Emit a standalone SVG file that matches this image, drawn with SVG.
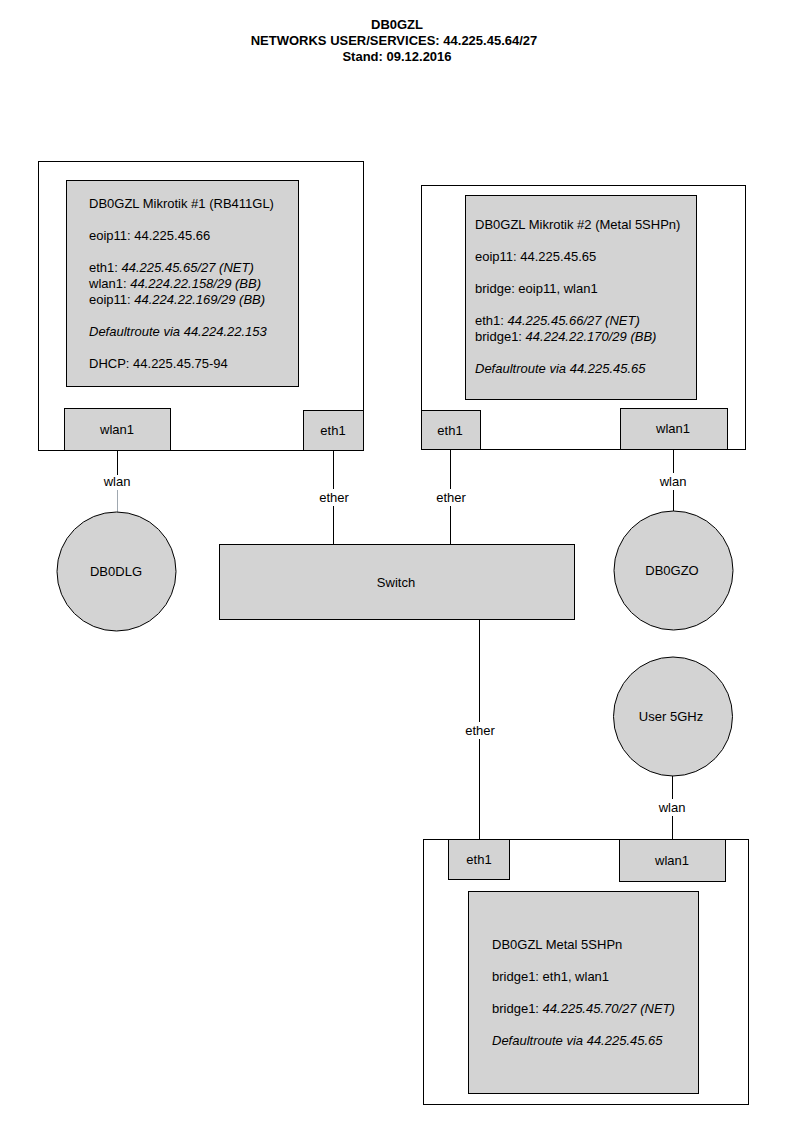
<svg xmlns="http://www.w3.org/2000/svg" width="794" height="1123" viewBox="0 0 794 1123">
<style>
text{font-family:"Liberation Sans",Arial,sans-serif;font-size:13px;fill:#000}
.t{font-weight:bold;text-anchor:middle}
.c{text-anchor:middle}
.i{font-style:italic}
.outer{fill:#fff;stroke:#000;stroke-width:1}
.box{fill:#d3d3d3;stroke:#000;stroke-width:1}
.ln{stroke:#000;stroke-width:1;fill:none}
.lg{stroke:#a0a8b0;stroke-width:1;fill:none}
.lb{fill:#fff;stroke:none}
</style>
<rect width="794" height="1123" fill="#fff"/>
<g id="title">
<text class="t" x="397" y="29">DB0GZL</text>
<text class="t" x="394" y="45">NETWORKS USER/SERVICES: 44.225.45.64/27</text>
<text class="t" x="397" y="61">Stand: 09.12.2016</text>
</g>
<g id="connectors">
<line class="ln" x1="117.5" y1="450" x2="117.5" y2="475"/>
<line class="lg" x1="117.5" y1="490" x2="117.5" y2="512"/>
<text class="c" x="117" y="486">wlan</text>
<line class="ln" x1="333.5" y1="450" x2="333.5" y2="544"/>
<rect class="lb" x="317" y="489" width="34" height="17"/>
<text class="c" x="334" y="502">ether</text>
<line class="ln" x1="450.5" y1="449" x2="450.5" y2="544"/>
<rect class="lb" x="434" y="489" width="34" height="17"/>
<text class="c" x="451" y="502">ether</text>
<line class="ln" x1="673.5" y1="449" x2="673.5" y2="511"/>
<rect class="lb" x="657" y="473" width="32" height="17"/>
<text class="c" x="673" y="486">wlan</text>
<line class="ln" x1="479.5" y1="620" x2="479.5" y2="839"/>
<rect class="lb" x="462" y="722" width="35" height="17"/>
<text class="c" x="480" y="735">ether</text>
<line class="ln" x1="672.5" y1="776" x2="672.5" y2="839"/>
<rect class="lb" x="656" y="799" width="32" height="17"/>
<text class="c" x="672" y="812">wlan</text>
</g>
<g id="mikrotik1">
<rect class="outer" x="38.5" y="161.5" width="325" height="289"/>
<rect class="box" x="66.5" y="180.5" width="232" height="206"/>
<text x="89" y="208">DB0GZL Mikrotik #1 (RB411GL)</text>
<text x="89" y="240">eoip11: 44.225.45.66</text>
<text x="89" y="272">eth1: <tspan class="i">44.225.45.65/27 (NET)</tspan></text>
<text x="89" y="288">wlan1: <tspan class="i">44.224.22.158/29 (BB)</tspan></text>
<text x="89" y="304">eoip11: <tspan class="i">44.224.22.169/29 (BB)</tspan></text>
<text x="89" y="336" class="i">Defaultroute via 44.224.22.153</text>
<text x="89" y="368">DHCP: 44.225.45.75-94</text>
</g>
<g id="m1-wlan1">
<rect class="box" x="64.5" y="408.5" width="106" height="42"/>
<text class="c" x="117" y="434">wlan1</text>
</g>
<g id="m1-eth1">
<rect class="box" x="303.5" y="410.5" width="60" height="40"/>
<text class="c" x="333" y="435">eth1</text>
</g>
<g id="mikrotik2">
<rect class="outer" x="421.5" y="185.5" width="324" height="264"/>
<rect class="box" x="465.5" y="195.5" width="231" height="204"/>
<text x="475" y="229">DB0GZL Mikrotik #2 (Metal 5SHPn)</text>
<text x="475" y="261">eoip11: 44.225.45.65</text>
<text x="475" y="293">bridge: eoip11, wlan1</text>
<text x="475" y="325">eth1: <tspan class="i">44.225.45.66/27 (NET)</tspan></text>
<text x="475" y="341">bridge1: <tspan class="i">44.224.22.170/29 (BB)</tspan></text>
<text x="475" y="373" class="i">Defaultroute via 44.225.45.65</text>
</g>
<g id="m2-eth1">
<rect class="box" x="421.5" y="410.5" width="59" height="39"/>
<text class="c" x="450" y="435">eth1</text>
</g>
<g id="m2-wlan1">
<rect class="box" x="620.5" y="408.5" width="107" height="41"/>
<text class="c" x="673" y="433">wlan1</text>
</g>
<g id="db0dlg">
<circle class="box" cx="116.5" cy="571.5" r="59.5"/>
<text class="c" x="116" y="576">DB0DLG</text>
</g>
<g id="switch">
<rect class="box" x="219.5" y="544.5" width="355" height="75"/>
<text class="c" x="396" y="587">Switch</text>
</g>
<g id="db0gzo">
<circle class="box" cx="673.5" cy="570.5" r="59.5"/>
<text class="c" x="672" y="575">DB0GZO</text>
</g>
<g id="user5ghz">
<circle class="box" cx="673" cy="716.5" r="59.5"/>
<text class="c" x="671" y="721">User 5GHz</text>
</g>
<g id="metal5shpn">
<rect class="outer" x="423.5" y="839.5" width="325" height="265"/>
<rect class="box" x="468.5" y="891.5" width="230" height="202"/>
<text x="492" y="949">DB0GZL Metal 5SHPn</text>
<text x="492" y="981">bridge1: eth1, wlan1</text>
<text x="492" y="1013">bridge1: <tspan class="i">44.225.45.70/27 (NET)</tspan></text>
<text x="492" y="1045" class="i">Defaultroute via 44.225.45.65</text>
</g>
<g id="m3-eth1">
<rect class="box" x="448.5" y="839.5" width="61" height="40"/>
<text class="c" x="479" y="864">eth1</text>
</g>
<g id="m3-wlan1">
<rect class="box" x="619.5" y="839.5" width="106" height="42"/>
<text class="c" x="672" y="865">wlan1</text>
</g>
</svg>
